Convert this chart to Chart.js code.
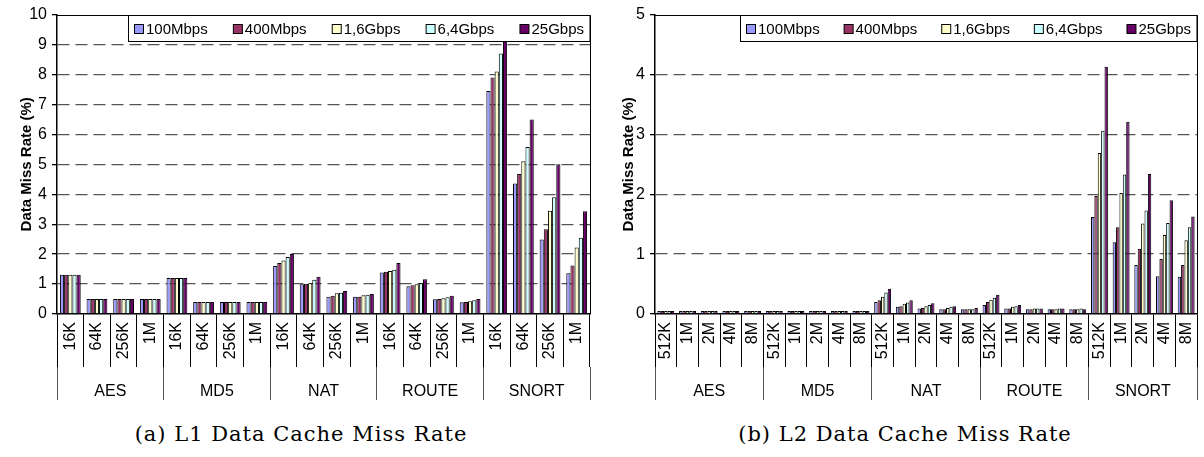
<!DOCTYPE html>
<html>
<head>
<meta charset="utf-8">
<script src="https://cdn.jsdelivr.net/npm/chart.js@4.4.1/dist/chart.umd.min.js"></script>
<style>
  body { margin: 0; background: #fff; width: 1204px; height: 457px; overflow: hidden; position: relative; }
  .panel { position: absolute; top: 0; width: 602px; height: 457px; }
  .cap { position: absolute; top: 422px; width: 602px; text-align: center; font: 21px 'DejaVu Serif', serif; letter-spacing: 1px; color: #000; }
</style>
</head>
<body>
<div class="panel" style="left:0">
  <canvas id="l1Chart" width="602" height="405"></canvas>
  <div class="cap" style="left:0">(a) L1 Data Cache Miss Rate</div>
</div>
<div class="panel" style="left:602px">
  <canvas id="l2Chart" width="602" height="405"></canvas>
  <div class="cap" style="left:2px">(b) L2 Data Cache Miss Rate</div>
</div>
<script>
const series = ['100Mbps', '400Mbps', '1,6Gbps', '6,4Gbps', '25Gbps'];
const colors = ['#9999FF', '#993366', '#FFFFCC', '#CCFFFF', '#660066'];
const groups = ['AES', 'MD5', 'NAT', 'ROUTE', 'SNORT'];

// L1 cache sizes, values in groups order AES, MD5, NAT, ROUTE, SNORT
const l1Sizes = ['16K', '64K', '256K', '1M'];
const l1_100M = [1.31, 0.5, 0.5, 0.5,  1.2, 0.4, 0.4, 0.4,  1.6, 0.99, 0.58, 0.58,  1.39, 0.93, 0.49, 0.39,  7.45, 4.36, 2.49, 1.36];
const l1_400M = [1.31, 0.5, 0.5, 0.5,  1.2, 0.4, 0.4, 0.4,  1.7, 1.01, 0.61, 0.58,  1.41, 0.96, 0.5, 0.4,   7.9, 4.68, 2.83, 1.62];
const l1_1_6G = [1.31, 0.5, 0.5, 0.5,  1.2, 0.4, 0.4, 0.4,  1.79, 1.03, 0.69, 0.63, 1.44, 0.99, 0.53, 0.43,  8.1, 5.1, 3.45, 2.22];
const l1_6_4G = [1.31, 0.5, 0.5, 0.5,  1.2, 0.4, 0.4, 0.4,  1.9, 1.14, 0.71, 0.64,  1.48, 1.03, 0.56, 0.46,  8.7, 5.58, 3.9, 2.55];
const l1_25G  = [1.31, 0.5, 0.5, 0.5,  1.2, 0.4, 0.4, 0.4,  2.0, 1.24, 0.77, 0.67,  1.7, 1.16, 0.61, 0.5,    9.13, 6.5, 5.0, 3.43];

// L2 cache sizes
const l2Sizes = ['512K', '1M', '2M', '4M', '8M'];
const l2_100M = [0.05, 0.05, 0.05, 0.05, 0.05,  0.05, 0.05, 0.05, 0.05, 0.05,  0.2, 0.12, 0.09, 0.08, 0.08,   0.15, 0.09, 0.08, 0.08, 0.08,  1.62, 1.2, 0.82, 0.63, 0.62];
const l2_400M = [0.05, 0.05, 0.05, 0.05, 0.05,  0.05, 0.05, 0.05, 0.05, 0.05,  0.23, 0.13, 0.1, 0.08, 0.08,   0.2, 0.09, 0.08, 0.08, 0.08,   1.97, 1.45, 1.09, 0.92, 0.82];
const l2_1_6G = [0.05, 0.05, 0.05, 0.05, 0.05,  0.05, 0.05, 0.05, 0.05, 0.05,  0.29, 0.17, 0.13, 0.1, 0.08,   0.24, 0.12, 0.09, 0.08, 0.08,  2.69, 2.02, 1.51, 1.32, 1.23];
const l2_6_4G = [0.05, 0.05, 0.05, 0.05, 0.05,  0.05, 0.05, 0.05, 0.05, 0.05,  0.36, 0.19, 0.15, 0.12, 0.08,  0.27, 0.13, 0.09, 0.09, 0.09,  3.06, 2.33, 1.73, 1.52, 1.45];
const l2_25G  = [0.05, 0.05, 0.05, 0.05, 0.05,  0.05, 0.05, 0.05, 0.05, 0.05,  0.42, 0.23, 0.18, 0.13, 0.1,   0.32, 0.15, 0.09, 0.09, 0.08,  4.13, 3.21, 2.34, 1.9, 1.63];

const FONT = '"Liberation Sans", Arial, sans-serif';

// boxed legend sitting inside the top of the plot area
const boxLegend = {
  id: 'boxLegend',
  afterDraw(chart, args, o) {
    const ctx = chart.ctx;
    const area = chart.chartArea;
    ctx.save();
    // plot frame (top + right)
    ctx.strokeStyle = '#000';
    ctx.lineWidth = 1;
    ctx.beginPath();
    ctx.moveTo(area.left, Math.round(area.top) + 0.5);
    ctx.lineTo(Math.round(area.right) + 0.5, Math.round(area.top) + 0.5);
    ctx.lineTo(Math.round(area.right) + 0.5, area.bottom);
    ctx.stroke();

    ctx.font = '15px ' + FONT;
    const x0 = o.left, x1 = area.right, y0 = Math.round(area.top) + 0.5, h = 26;
    ctx.fillStyle = '#fff';
    ctx.fillRect(x0, y0, x1 - x0, h);
    ctx.strokeRect(x0 + 0.5, y0, x1 - x0 - 0.5, h);
    const items = chart.data.datasets.map(d => ({ t: d.label, c: d.backgroundColor, w: 12 + ctx.measureText(d.label).width }));
    const total = items.reduce((s, it) => s + it.w, 0);
    const gap = (x1 - x0 - 12 - total) / (items.length - 1);
    let x = x0 + 6;
    const ym = y0 + h / 2;
    ctx.textBaseline = 'middle';
    items.forEach(it => {
      ctx.fillStyle = it.c;
      ctx.fillRect(x + 0.5, ym - 4, 9, 9);
      ctx.strokeStyle = '#000';
      ctx.strokeRect(x + 0.5, ym - 4, 9, 9);
      ctx.fillStyle = '#000';
      ctx.fillText(it.t, x + 12, ym + 1);
      x += it.w + gap;
    });
    ctx.restore();
  }
};

function makeChart(id, sizes, values, yMax, axisW, legendLeft, padRight) {
  const labels = groups.flatMap(() => sizes);
  new Chart(document.getElementById(id), {
    type: 'bar',
    data: {
      labels: labels,
      datasets: series.map((s, i) => ({
        label: s,
        data: values[i],
        xAxisID: 'x',
        backgroundColor: colors[i],
        borderColor: '#000',
        borderWidth: 1,
        barPercentage: 1.0,
        categoryPercentage: 0.78
      }))
    },
    options: {
      responsive: false,
      animation: false,
      devicePixelRatio: 1,
      layout: { padding: { left: 0, top: 14, right: padRight, bottom: 5 } },
      plugins: {
        legend: { display: false },
        tooltip: { enabled: false },
        boxLegend: { left: legendLeft }
      },
      scales: {
        y: {
          min: 0,
          max: yMax,
          ticks: { stepSize: 1, color: '#000', padding: 5, font: { family: FONT, size: 16 } },
          grid: {
            color: c => (c.tick.value === 0 || c.tick.value === yMax) ? 'rgba(0,0,0,0)' : '#555',
            lineWidth: 1.3,
            tickLength: 5,
            tickColor: '#000'
          },
          border: { color: '#000', width: 1.5, dash: [12, 6] },
          title: {
            display: true,
            text: 'Data Miss Rate (%)',
            color: '#000',
            font: { family: FONT, size: 15, weight: 'bold' },
            padding: { top: 18, bottom: 0 }
          },
          afterFit: s => { s.width = axisW; }
        },
        x: {
          weight: 0,
          offset: true,
          grid: { offset: true, drawOnChartArea: false, tickLength: 53, color: '#000', lineWidth: 1 },
          border: { color: '#000', width: 1.5 },
          ticks: { minRotation: 90, maxRotation: 90, autoSkip: false, padding: -45, color: '#000', font: { family: FONT, size: 16 } },
          afterFit: s => { s.height = 53; }
        },
        x2: {
          type: 'category',
          labels: groups,
          position: 'bottom',
          weight: 1,
          offset: true,
          grid: { offset: true, drawOnChartArea: false, tickLength: 33, color: '#555', lineWidth: 1 },
          border: { display: false },
          ticks: { maxRotation: 0, autoSkip: false, padding: -18, color: '#000', font: { family: FONT, size: 16 } },
          afterFit: s => { s.height = 33; }
        }
      }
    },
    plugins: [boxLegend]
  });
}

makeChart('l1Chart', l1Sizes, [l1_100M, l1_400M, l1_1_6G, l1_6_4G, l1_25G], 10, 57, 128, 12);
makeChart('l2Chart', l2Sizes, [l2_100M, l2_400M, l2_1_6G, l2_6_4G, l2_25G], 5, 53, 138, 7);
</script>
</body>
</html>
